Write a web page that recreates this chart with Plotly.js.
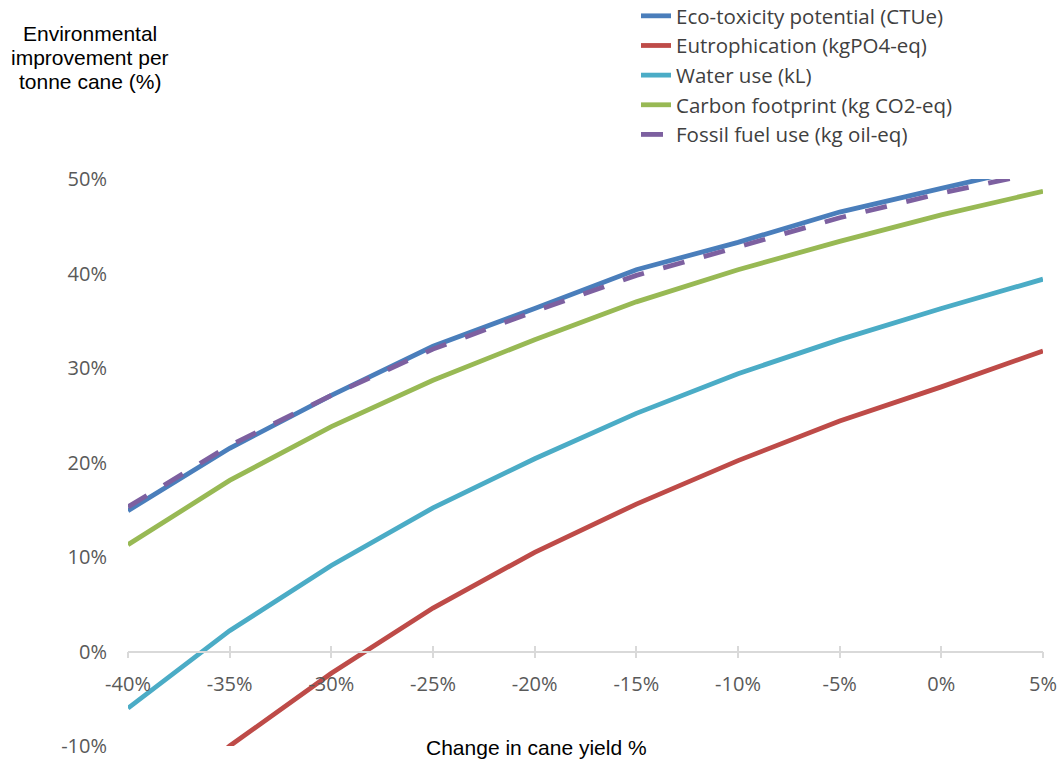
<!DOCTYPE html>
<html>
<head>
<meta charset="utf-8">
<script src="https://cdn.plot.ly/plotly-3.0.1.min.js"></script>
<style>
  html, body { margin: 0; padding: 0; background: #ffffff; }
  #chart { width: 1059px; height: 760px; }
</style>
</head>
<body>
<div id="chart"></div>
<script>
// Change in cane yield (%)
const yieldChange = [-40, -35, -30, -25, -20, -15, -10, -5, 0, 5];

// Environmental improvement per tonne cane (%)
const ecoToxicity   = [14.9, 21.5, 27.1, 32.3, 36.3, 40.4, 43.3, 46.5, 49.0, 51.5];
const eutrophication = [-19.0, -10.0, -2.3, 4.6, 10.5, 15.6, 20.2, 24.4, 28.0, 31.8];
const waterUse      = [-6.0, 2.2, 9.1, 15.2, 20.4, 25.2, 29.4, 33.0, 36.3, 39.4];
const carbonFootprint = [11.3, 18.1, 23.8, 28.7, 33.0, 37.0, 40.4, 43.4, 46.2, 48.7];
const fossilFuel    = [15.3, 21.8, 27.1, 32.0, 36.0, 39.8, 42.8, 45.9, 48.5, 50.8];

const seriesNames = [
  "Eco-toxicity potential (CTUe)",
  "Eutrophication (kgPO4-eq)",
  "Water use (kL)",
  "Carbon footprint (kg CO2-eq)",
  "Fossil fuel use (kg oil-eq)"
];
const seriesValues = [ecoToxicity, eutrophication, waterUse, carbonFootprint, fossilFuel];
const seriesColors = ["#4A7EBB", "#BE4B48", "#4BACC6", "#98B954", "#7D60A0"];
const seriesDash = ["solid", "solid", "solid", "solid", "22px,20px"];

const xTickVals = [-40, -35, -30, -25, -20, -15, -10, -5, 0, 5];
const xTickText = ["-40%", "-35%", "-30%", "-25%", "-20%", "-15%", "-10%", "-5%", "0%", "5%"];
const yTickVals = [-10, 0, 10, 20, 30, 40, 50];
const yTickText = ["-10%", "0%", "10%", "20%", "30%", "40%", "50%"];

const yTitleLines = ["Environmental", "improvement per", "tonne cane (%)"];
const xTitleText = "Change in cane yield %";

const traces = seriesNames.map((name, i) => ({
  type: "scatter",
  mode: "lines",
  name: name,
  legendgroup: "g" + i,
  x: yieldChange,
  y: seriesValues[i],
  line: { color: seriesColors[i], width: 4.8, dash: seriesDash[i] },
  hoverinfo: "x+y+name"
}));

const tickFont = { family: "Open Sans, Noto Sans, sans-serif", size: 20, color: "#595959" };

const W = 1059, H = 760;
const mL = 128, mR = 16, mT = 179, mB = 14;
const plotW = W - mL - mR, plotH = H - mT - mB;

const titleFont = { family: "Liberation Sans, Arial, sans-serif", size: 21, color: "#000000" };
const titleLineY = [33, 57, 81];

const annotations = yTitleLines.map((t, i) => ({
  xref: "paper", yref: "paper",
  x: (90 - mL) / plotW, y: 1 + (mT - titleLineY[i]) / plotH,
  xanchor: "center", yanchor: "middle",
  text: t, showarrow: false, font: titleFont
}));
annotations.push({
  xref: "paper", yref: "paper",
  x: (536 - mL) / plotW, y: (H - mB - 747) / plotH,
  xanchor: "center", yanchor: "middle",
  text: xTitleText, showarrow: false, font: titleFont
});

// legend placement in pixels (top-left of the legend box)
const legendLeftPx = 636, legendTopPx = -4;

const layout = {
  width: W,
  height: H,
  margin: { l: mL, r: mR, t: mT, b: mB, pad: 0, autoexpand: false },
  paper_bgcolor: "#ffffff",
  plot_bgcolor: "#ffffff",
  showlegend: true,
  legend: {
    x: (legendLeftPx - mL) / plotW, xanchor: "left",
    y: 1 + (mT - legendTopPx) / plotH, yanchor: "top",
    font: { family: "Open Sans, Noto Sans, sans-serif", size: 20.5, color: "#404040" },
    bgcolor: "rgba(0,0,0,0)",
    borderwidth: 0,
    tracegroupgap: 0,
    itemwidth: 30
  },
  xaxis: {
    range: [-40, 5],
    anchor: "free",
    position: 1 / 6,
    tickvals: xTickVals,
    ticktext: xTickText,
    ticks: "outside",
    ticklen: 6,
    tickwidth: 1.5,
    tickcolor: "#D9D9D9",
    showline: true,
    linecolor: "#D9D9D9",
    linewidth: 1.5,
    showgrid: false,
    zeroline: false,
    tickfont: tickFont,
    ticklabelstandoff: 9,
    ticklabeloverflow: "allow",
    automargin: false,
    fixedrange: true
  },
  xaxis2: {
    range: [-40, 5],
    overlaying: "x",
    anchor: "free",
    position: 1 / 6,
    tickvals: xTickVals,
    ticks: "inside",
    ticklen: 6,
    tickwidth: 1.5,
    tickcolor: "#D9D9D9",
    showticklabels: false,
    showline: false,
    showgrid: false,
    zeroline: false,
    automargin: false,
    fixedrange: true
  },
  yaxis: {
    range: [-10, 50],
    tickvals: yTickVals,
    ticktext: yTickText,
    ticks: "",
    showline: false,
    showgrid: false,
    zeroline: false,
    tickfont: tickFont,
    ticklabelstandoff: 20,
    ticklabeloverflow: "allow",
    automargin: false,
    fixedrange: true
  },
  annotations: annotations
};

// empty trace to make the secondary (tick-only) axis render
traces.unshift({
  type: "scatter", mode: "lines", x: [], y: [], xaxis: "x2", yaxis: "y",
  showlegend: false, hoverinfo: "skip"
});

Plotly.newPlot("chart", traces, layout, { displayModeBar: false, staticPlot: false });
</script>
</body>
</html>
